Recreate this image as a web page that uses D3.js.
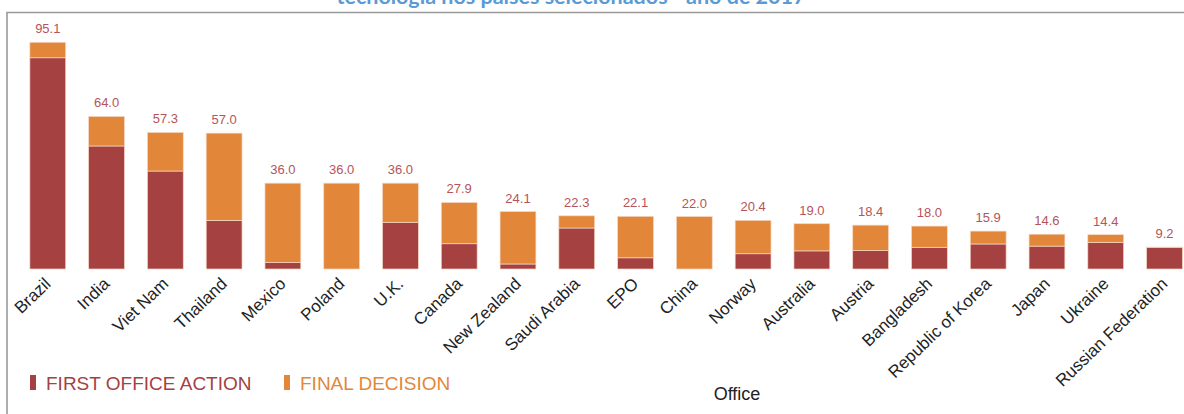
<!DOCTYPE html>
<html>
<head>
<meta charset="utf-8">
<script src="https://cdn.jsdelivr.net/npm/d3@7"></script>
<style>
    body { margin: 0; background: #fff; }
    svg { display: block; font-family: "Liberation Sans", Arial, sans-serif; }
</style>
</head>
<body>
<svg id="chart" width="1184" height="414"></svg>
<script>
// offices, in the order they are drawn
const offices = ["Brazil", "India", "Viet Nam", "Thailand", "Mexico", "Poland", "U.K.", "Canada",
    "New Zealand", "Saudi Arabia", "EPO", "China", "Norway", "Australia", "Austria", "Bangladesh",
    "Republic of Korea", "Japan", "Ukraine", "Russian Federation"];

// months until first office action (bottom part of each bar)
const firstOfficeAction = [88.6, 51.6, 41.1, 20.4, 2.8, 0.0, 19.6, 10.6, 2.1, 17.2,
    4.7, 0.0, 6.4, 7.6, 7.8, 9.1, 10.5, 9.6, 11.2, 9.0];

// remaining months until final decision (top part of each bar)
const finalDecision = [6.5, 12.4, 16.2, 36.6, 33.2, 36.0, 16.4, 17.3, 22.0, 5.1,
    17.4, 22.0, 14.0, 11.4, 10.6, 8.9, 5.4, 5.0, 3.2, 0.2];

// total printed above each bar
const totalLabels = [95.1, 64.0, 57.3, 57.0, 36.0, 36.0, 36.0, 27.9, 24.1, 22.3,
    22.1, 22.0, 20.4, 19.0, 18.4, 18.0, 15.9, 14.6, 14.4, 9.2];

const seriesNames = ["FIRST OFFICE ACTION", "FINAL DECISION"];
const titleText = "tecnologia nos países selecionados - ano de 2017";

/** Draws the stacked bar chart of pendency per office. */
class PendencyChart {
    constructor(svgId) {
        this.svg = d3.select(svgId);
        this.colors = { first: "#a54141", final: "#e2873a", label: "#b5545a" };
        this.rows = offices.map((name, i) => ({
            office: name,
            first: firstOfficeAction[i],
            final: finalDecision[i],
            total: totalLabels[i]
        }));
    }

    draw() {
        const svg = this.svg;

        // frame and the title, which is cut by the top edge as in the source
        svg.append("path")
            .attr("d", "M7,420 V12.5 H1190")
            .attr("fill", "none")
            .attr("stroke", "#9a9a9a")
            .attr("stroke-width", 1.6);

        svg.append("text")
            .attr("x", 571)
            .attr("y", 3.5)
            .attr("text-anchor", "middle")
            .style("font-family", "Lato, 'Open Sans', sans-serif")
            .style("font-weight", "bold")
            .style("font-size", "21.5px")
            .attr("fill", "#5b9bd5")
            .text(titleText);

        let x = d3.scaleBand()
            .domain(offices)
            .range([18.4, 1193.9])
            .paddingInner(0.39)
            .paddingOuter(0.195);

        let y = d3.scaleLinear()
            .domain([0, 100])
            .range([269, 30.6]);

        let stack = d3.stack().keys(["first", "final"]);
        let layers = stack(this.rows);

        svg.append("g")
            .selectAll("g")
            .data(layers)
            .join("g")
            .attr("fill", d => d.key === "first" ? this.colors.first : this.colors.final)
            .selectAll("rect")
            .data(d => d)
            .join("rect")
            .attr("x", d => x(d.data.office))
            .attr("width", x.bandwidth())
            .attr("y", d => y(d[1]))
            .attr("height", d => y(d[0]) - y(d[1]))
            .attr("stroke", "#f6d8c4")
            .attr("stroke-width", 0.7);

        // totals on top
        svg.append("g")
            .selectAll("text")
            .data(this.rows)
            .join("text")
            .attr("x", d => x(d.office) + x.bandwidth() / 2)
            .attr("y", d => y(d.first + d.final) - 9)
            .attr("text-anchor", "middle")
            .style("font-size", "13px")
            .attr("fill", this.colors.label)
            .text(d => d.total.toFixed(1));

        // office names
        let axis = svg.append("g")
            .attr("transform", "translate(0,269)")
            .call(d3.axisBottom(x).tickSize(0));
        axis.select(".domain").remove();
        axis.selectAll("text")
            .attr("x", 0).attr("y", 0).attr("dy", 0)
            .attr("transform", "translate(4,16) rotate(-44)")
            .attr("text-anchor", "end")
            .style("font-family", "'Liberation Sans', Arial, sans-serif")
            .style("font-size", "17px")
            .attr("fill", "#222");

        svg.append("text")
            .attr("x", 737)
            .attr("y", 400)
            .attr("text-anchor", "middle")
            .style("font-size", "18px")
            .attr("fill", "#222")
            .text("Office");

        // legend
        let legendX = [30, 284];
        let legendColors = [this.colors.first, this.colors.final];
        let legend = svg.append("g")
            .selectAll("g")
            .data(seriesNames)
            .join("g")
            .attr("transform", (d, i) => "translate(" + legendX[i] + ",375)");
        legend.append("rect")
            .attr("width", 6)
            .attr("height", 15)
            .attr("fill", (d, i) => legendColors[i]);
        legend.append("text")
            .attr("x", 16)
            .attr("y", 14.5)
            .style("font-size", "19px")
            .attr("fill", (d, i) => legendColors[i])
            .text(d => d);
    }
}

let chart = new PendencyChart("#chart");
chart.draw();
</script>
</body>
</html>
